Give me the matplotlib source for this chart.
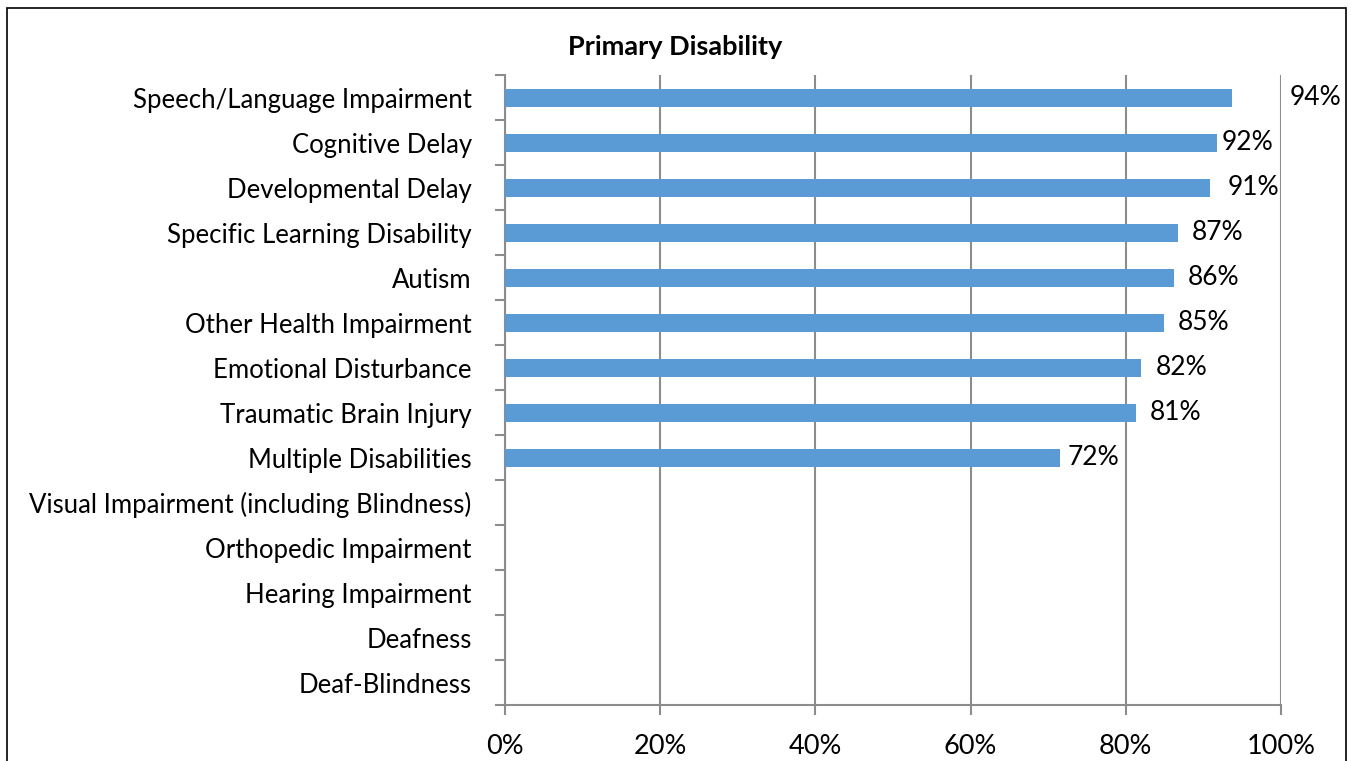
import matplotlib
matplotlib.use("Agg")
import matplotlib.pyplot as plt
from matplotlib.patches import Rectangle

categories = [
    "Speech/Language Impairment",
    "Cognitive Delay",
    "Developmental Delay",
    "Specific Learning Disability",
    "Autism",
    "Other Health Impairment",
    "Emotional Disturbance",
    "Traumatic Brain Injury",
    "Multiple Disabilities",
    "Visual Impairment (including Blindness)",
    "Orthopedic Impairment",
    "Hearing Impairment",
    "Deafness",
    "Deaf-Blindness",
]
values = [93.7, 91.8, 90.9, 86.7, 86.2, 84.9, 82.0, 81.3, 71.5, None, None, None, None, None]
value_labels = ["94%", "92%", "91%", "87%", "86%", "85%", "82%", "81%", "72%"]
xticks = [0, 20, 40, 60, 80, 100]
xtick_labels = ["0%", "20%", "40%", "60%", "80%", "100%"]
title = "Primary Disability"

plt.rcParams['font.family'] = ['Lato', 'DejaVu Sans']
W, H = 1351, 761
fig = plt.figure(figsize=(W / 100, H / 100), dpi=100)
ax = fig.add_axes([505 / W, 1 - 705 / H, (1281 - 505) / W, (705 - 75) / H])

grey = "#8c8c8c"
bar_color = "#5B9BD5"
fs = 18.5
n = len(categories)
ys = list(range(n))
for y, v in zip(ys, values):
    if v is not None:
        ax.barh(y, v, height=0.4, color=bar_color, zorder=3)

ax.set_ylim(n - 0.5, -0.5)
ax.set_xlim(0, 100)
ax.set_xticks(xticks)
ax.set_xticklabels(xtick_labels, fontsize=fs + 1)
ax.set_yticks(ys)
ax.set_yticklabels(categories, fontsize=fs)
ax.tick_params(axis='y', length=0, pad=24)
ax.tick_params(axis='x', length=7, width=1.5, color=grey, pad=14)
ax.set_yticks([i - 0.5 for i in range(n + 1)], minor=True)
ax.tick_params(axis='y', which='minor', length=7, width=1.5, color=grey)
ax.grid(axis='x', color=grey, linewidth=1.5, zorder=0)
for s in ['top', 'right']:
    ax.spines[s].set_visible(False)
for s in ['left', 'bottom']:
    ax.spines[s].set_color(grey)
    ax.spines[s].set_linewidth(1.5)

offsets = [None, 4, 17, 14, 14, 14, 14, 14, 8]
for i, lab in enumerate(value_labels):
    v = values[i]
    if offsets[i] is None:
        ax.annotate(lab, xy=(100, i), xytext=(9, 0), textcoords='offset pixels',
                    va='center', ha='left', fontsize=fs + 0.5, annotation_clip=False)
    else:
        ax.annotate(lab, xy=(v, i), xytext=(offsets[i], 0), textcoords='offset pixels',
                    va='center', ha='left', fontsize=fs + 0.5, annotation_clip=False)

fig.text(0.5, 1 - 47 / H, title, ha='center', va='center', fontsize=19.5, fontweight='bold')

fig.patches.append(Rectangle((7 / W, -0.05), (1346 - 7) / W, 1 - 8 / H + 0.05,
                             transform=fig.transFigure, fill=False,
                             edgecolor='black', linewidth=1.2))

fig.savefig("out.png", dpi=100)
